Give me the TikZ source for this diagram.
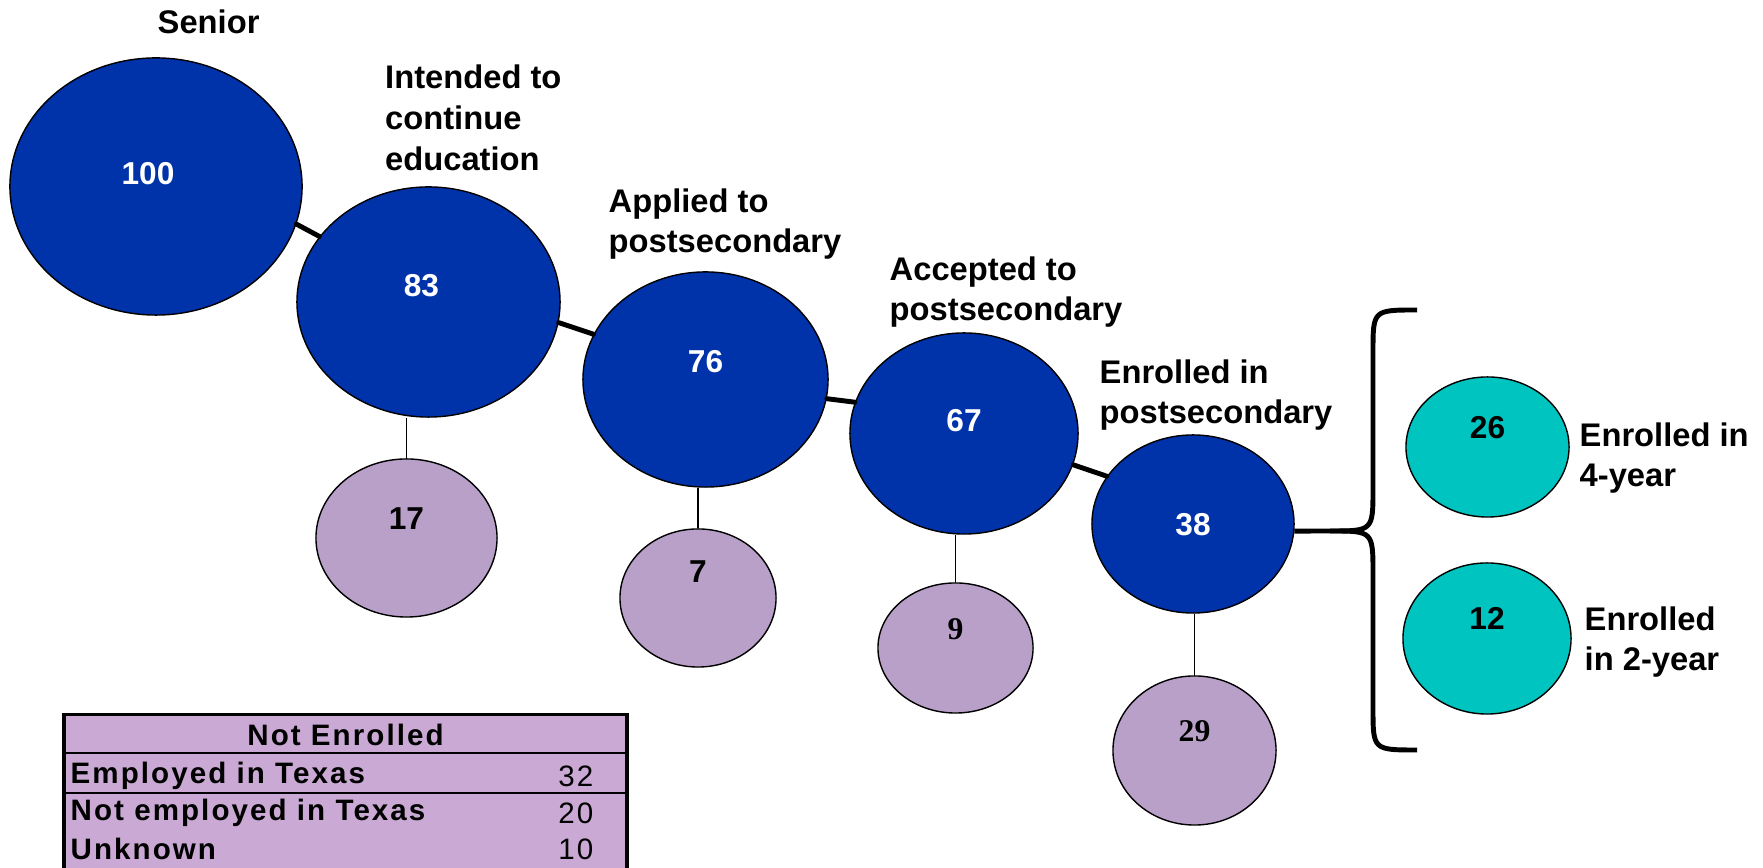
\documentclass[tikz,border=0pt]{standalone}
\usepackage{fontspec}
\setmainfont{Liberation Sans}
\newfontfamily\serifnum{Liberation Serif}
\newfontfamily\tabfam[LetterSpace=7]{Liberation Sans}
\usetikzlibrary{shapes.geometric,positioning,calc}
\definecolor{stageblue}{RGB}{0,51,170}
\definecolor{droppurple}{RGB}{185,160,201}
\definecolor{splitteal}{RGB}{0,196,192}
\definecolor{tabpurple}{RGB}{202,169,212}
\newcommand{\numfont}{\fontsize{9}{11}\selectfont\bfseries}
\newcommand{\lblfont}{\fontsize{9.3}{11.6}\selectfont\bfseries}
\newcommand{\tabfont}{\tabfam\fontsize{8.4}{10}\selectfont}
\tikzset{bubble/.style={ellipse,draw,line width=0.4pt,inner sep=0pt,font=\numfont,text height=2.3mm},
  stage/.style={bubble,fill=stageblue,text=white},
  drop/.style={bubble,fill=droppurple},
  split/.style={bubble,fill=splitteal},
  lift/.style={text depth=#1},
  sz/.style 2 args={minimum width=#1,minimum height=#2},
  stagelbl/.style={font=\lblfont,align=left,anchor=west,inner sep=0pt},
  joinline/.style={line width=1.4pt,line cap=round},
  stemline/.style={line width=0.35pt},
  forkline/.style={line width=1.4pt},
  tabtext/.style={font=\tabfont,inner sep=0pt},
  tabhead/.style={tabtext,font=\tabfont\bfseries}}

\begin{document}
\begin{tikzpicture}[x=0.01cm,y=-0.01cm]
  \useasboundingbox (0,0) rectangle (1763,868);
  \clip (0,0) rectangle (1763,868);

  % stages
  \node (c100) [stage,sz={2.92cm}{2.57cm},lift=2.7mm] at (156,186.5) {\hspace*{-1.6mm}100};
  \node (c83) [stage,sz={2.63cm}{2.30cm},lift=3.4mm] at (428.5,302) {\hspace*{-1.4mm}83};
  \node (c76) [stage,sz={2.45cm}{2.15cm},lift=3.7mm] at (705.5,379.5) {76};
  \node (c67) [stage,sz={2.28cm}{2.01cm},lift=2.7mm] at (964,433.5) {67};
  \node (c38) [stage,sz={2.02cm}{1.78cm},lift=0mm] at (1193,524) {38};

  % drop-outs
  \node (d17) [drop,sz={1.81cm}{1.58cm},lift=4mm] at (406.5,538) {17};
  \node (d7) [drop,sz={1.56cm}{1.38cm},lift=5.4mm] at (698,598) {7};
  \node (d9) [drop,sz={1.55cm}{1.30cm},lift=4mm,font=\numfont\serifnum] at (955.5,648) {9};
  \node (d29) [drop,sz={1.63cm}{1.49cm},lift=4mm,font=\numfont\serifnum] at (1194.5,750.5) {29};

  % 4-year / 2-year
  \node (e26) [split,sz={1.63cm}{1.40cm},lift=4mm] at (1487.5,447) {26};
  \node (e12) [split,sz={1.68cm}{1.51cm},lift=4mm] at (1487,638.5) {12};

  % labels
  \node (l100) [stagelbl] at (157,22) {Senior};
  \node (l83) [stagelbl] at (384.5,118) {Intended to\\continue\\education};
  \node (l76) [stagelbl] at (608,224) {Applied to\\postsecondary};
  \node (l67) [stagelbl] at (889,292) {Accepted to\\postsecondary};
  \node (l38) [stagelbl] at (1099,395) {Enrolled in\\postsecondary};
  \node (l26) [stagelbl] at (1579,458) {Enrolled in\\4-year};
  \node (l12) [stagelbl] at (1584,642) {Enrolled\\in 2-year};

  % links
  \draw[joinline] (c100.-15) -- (c83.149);
  \draw[joinline] (c83.-9) -- (c76.158);
  \draw[joinline] (c76.-9) -- (c67.164);
  \draw[joinline] (c67.-16) -- (c38.151);

  \foreach \st/\dr in {c83/d17,c76/d7,c67/d9,c38/d29}
    \draw[stemline] (\dr.north) -- (\dr.north |- \st.south);

  % brace
  \coordinate (fork) at (1330,531);
  \coordinate (fktop) at (1417,310);
  \coordinate (fkbot) at (1417,750);
  \draw[forkline] (c38.-4) -- (fork) .. controls (1373,531) .. (1373,488) -- (1373,352) .. controls (1373,310) .. (fktop);
  \draw[forkline] (fork) .. controls (1373,531) .. (1373,574) -- (1373,708) .. controls (1373,750) .. (fkbot);

  % not enrolled table
  \node (tab) [draw,line width=1pt,fill=tabpurple,minimum width=5.63cm,minimum height=1.67cm,inner sep=0pt] at (345.5,798) {};
  \draw[line width=0.7pt] (64,753) -- (627,753);
  \draw[line width=0.7pt] (64,793) -- (627,793);
  \node (thead) [tabhead] at (345.5,735) {Not Enrolled};
  \node (r1) [tabhead,anchor=west] at (70,776) {Employed in Texas};
  \node (r1n) [tabtext,anchor=east] at (594,776) {32};
  \node (r2) [tabhead,anchor=west] at (70,813) {Not employed in Texas};
  \node (r2n) [tabtext,anchor=east] at (594,813) {20};
  \node (r3) [tabhead,anchor=west] at (70,849) {Unknown};
  \node (r3n) [tabtext,anchor=east] at (594,849) {10};
\end{tikzpicture}
\end{document}
